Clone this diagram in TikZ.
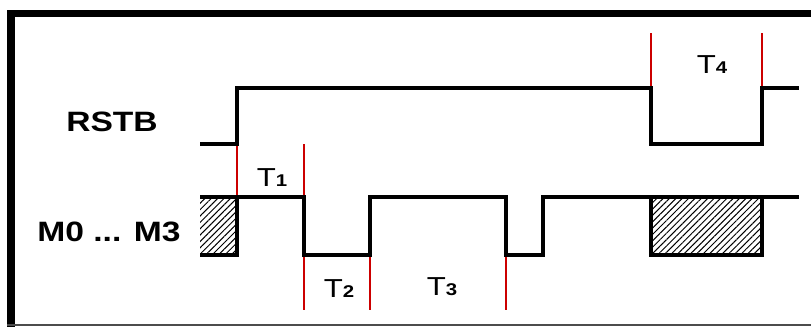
\documentclass[tikz,border=0pt]{standalone}
\usepackage{fontspec}
\newfontfamily\sigfont[FakeStretch=1.2]{Liberation Sans}
\usetikzlibrary{patterns.meta}
\newcommand{\tlab}[1]{T{\bfseries\fontsize{17}{17}\selectfont #1}}
\begin{document}
\begin{tikzpicture}[x=1pt,y=-1pt,
	sig/.style={line width=3.2pt},
	tick/.style={draw=red!80!black,line width=2.8pt},
	hatch/.style={pattern={Lines[angle=45,distance=4.5pt,line width=1pt]}},
	lbl/.style={font=\sigfont\bfseries\fontsize{28}{28}\selectfont,inner sep=0pt},
	tlbl/.style={font=\sigfont\fontsize{26}{26}\selectfont,inner sep=0pt}]
	\useasboundingbox (0,0) rectangle (811,327);
	% frame
	\draw[line width=7pt] (7,13.5) -- (811,13.5);
	\draw[line width=8pt] (11,10) -- (11,327);
	\draw[line width=1.5pt,black!70] (7,325) -- (811,325);
	% red timing marks
	\draw[tick] (237,144) -- (237,197);
	\draw[tick] (304,144) -- (304,310);
	\draw[tick] (370,255) -- (370,310);
	\draw[tick] (506,255) -- (506,310);
	\draw[tick] (651,33) -- (651,88);
	\draw[tick] (762,33) -- (762,88);
	% undefined data
	\fill[hatch] (200,197) rectangle (237,255);
	\draw[sig,hatch] (651,197) rectangle (762,255);
	% RSTB
	\draw[sig] (200,144) -- (237,144) -- (237,88) -- (651,88) -- (651,144)
		-- (762,144) -- (762,88) -- (799,88);
	% M0 ... M3
	\draw[sig] (200,255) -- (237,255) -- (237,197);
	\draw[sig] (200,197) -- (304,197) -- (304,255) -- (370,255) -- (370,197)
		-- (506,197) -- (506,255) -- (543,255) -- (543,197) -- (799,197);
	% labels
	\node[lbl] (rstb) at (112,122) {RSTB};
	\node[lbl] (mbus) at (109,232) {M0 ... M3};
	\node[tlbl] (t1) at (272,178) {\tlab{1}};
	\node[tlbl] (t2) at (339,289) {\tlab{2}};
	\node[tlbl] (t3) at (442,287) {\tlab{3}};
	\node[tlbl] (t4) at (712,65) {\tlab{4}};
\end{tikzpicture}
\end{document}
